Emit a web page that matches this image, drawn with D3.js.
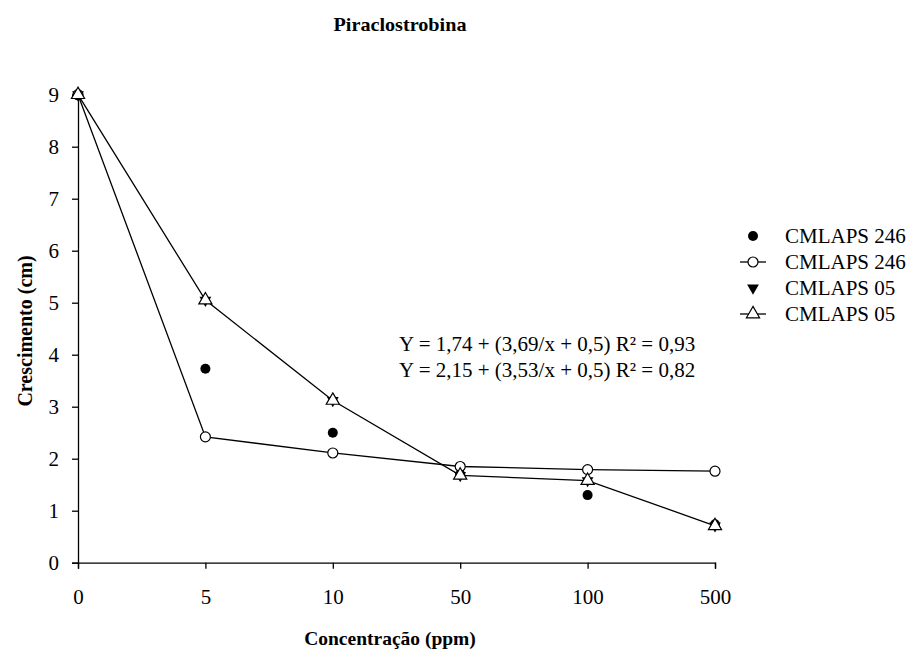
<!DOCTYPE html>
<html>
<head>
  <meta charset="utf-8">
  <title>Piraclostrobina</title>
  <script src="https://cdnjs.cloudflare.com/ajax/libs/d3/7.8.5/d3.min.js"></script>
  <style>
    body { margin: 0; background: #fff; }
  </style>
</head>
<body>
<div id="chart"></div>
<script>
// categories on the x axis (ppm)
var concentracoes = ['0', '5', '10', '50', '100', '500'];
// observed CMLAPS 246 (filled circles)
var obs246 = [9, 3.73, 2.5, 1.7, 1.3, 0.74];
// fitted CMLAPS 246 (open circles with line)
var fit246 = [9, 2.42, 2.11, 1.85, 1.79, 1.76];
// observed CMLAPS 05 (filled down triangles)
var obs05 = [9, 5.05, 3.12, 1.68, 1.58, 0.71];
// fitted CMLAPS 05 (open triangles with line)
var fit05 = [9, 5.05, 3.12, 1.68, 1.58, 0.71];
var yTicks = [0, 1, 2, 3, 4, 5, 6, 7, 8, 9];
var equacoes = ['Y = 1,74 + (3,69/x + 0,5) R² = 0,93', 'Y = 2,15 + (3,53/x + 0,5) R² = 0,82'];
var legenda = ['CMLAPS 246', 'CMLAPS 246', 'CMLAPS 05', 'CMLAPS 05'];

var serif = 'Liberation Serif';
var width = 910, height = 651;
var svg = d3.select('#chart').append('svg')
  .attr('width', width)
  .attr('height', height)
  .attr('font-family', serif);

var x = d3.scalePoint().domain(concentracoes).range([78, 715]);
var y = d3.scaleLinear().domain([0, 9]).range([562.7, 94.7]);

// axes
var xAxis = svg.append('g')
  .attr('transform', 'translate(0,' + y(0) + ')')
  .call(d3.axisBottom(x).tickSizeOuter(0).tickSize(6).tickPadding(20));
var yAxis = svg.append('g')
  .attr('transform', 'translate(' + x('0') + ',0)')
  .call(d3.axisLeft(y).tickValues(yTicks).tickSizeOuter(0).tickSize(6).tickPadding(13));
[xAxis, yAxis].forEach(function(a) {
  a.attr('font-family', serif).attr('font-size', 21);
  a.select('.domain').attr('stroke', '#000').attr('stroke-width', 1.3);
  a.selectAll('.tick line').attr('stroke', '#000').attr('stroke-width', 1.3);
  a.selectAll('.tick text').attr('fill', '#000');
});

// titles
svg.append('text')
  .attr('x', 400).attr('y', 31)
  .attr('text-anchor', 'middle')
  .attr('font-size', 19).attr('font-weight', 'bold')
  .attr('textLength', 133).attr('lengthAdjust', 'spacingAndGlyphs')
  .text('Piraclostrobina');
svg.append('text')
  .attr('x', 390).attr('y', 645)
  .attr('text-anchor', 'middle')
  .attr('font-size', 19.5).attr('font-weight', 'bold')
  .text('Concentração (ppm)');
svg.append('text')
  .attr('transform', 'translate(32,331) rotate(-90)')
  .attr('text-anchor', 'middle')
  .attr('font-size', 20).attr('font-weight', 'bold')
  .text('Crescimento (cm)');

var line = d3.line()
  .x(function(d, i) { return x(concentracoes[i]); })
  .y(function(d) { return y(d); });

svg.append('path').datum(fit246)
  .attr('d', line).attr('fill', 'none').attr('stroke', '#000').attr('stroke-width', 1.3);
svg.append('path').datum(fit05)
  .attr('d', line).attr('fill', 'none').attr('stroke', '#000').attr('stroke-width', 1.3);

var triUp = d3.symbol().type(d3.symbolTriangle).size(75);
var triDown = d3.symbol().type(d3.symbolTriangle).size(60);

// filled circles
svg.selectAll('.obs246').data(obs246).enter().append('circle')
  .attr('cx', function(d, i) { return x(concentracoes[i]); })
  .attr('cy', function(d) { return y(d); })
  .attr('r', 5).attr('fill', '#000');

// filled down triangles
svg.selectAll('.obs05').data(obs05).enter().append('path')
  .attr('d', triDown())
  .attr('transform', function(d, i) { return 'translate(' + x(concentracoes[i]) + ',' + y(d) + ') rotate(180)'; })
  .attr('fill', '#000');

// open circles
svg.selectAll('.fit246').data(fit246).enter().append('circle')
  .attr('cx', function(d, i) { return x(concentracoes[i]); })
  .attr('cy', function(d) { return y(d); })
  .attr('r', 5).attr('fill', '#fff').attr('stroke', '#000').attr('stroke-width', 1.2);

// open up triangles
svg.selectAll('.fit05').data(fit05).enter().append('path')
  .attr('d', triUp())
  .attr('transform', function(d, i) { return 'translate(' + x(concentracoes[i]) + ',' + y(d) + ')'; })
  .attr('fill', '#fff').attr('stroke', '#000').attr('stroke-width', 1.2);

// equations
svg.selectAll('.eq').data(equacoes).enter().append('text')
  .attr('x', 399)
  .attr('y', function(d, i) { return 351 + i * 26; })
  .attr('font-size', 21)
  .text(function(d) { return d; });

// legend
var leg = svg.append('g').attr('transform', 'translate(753,236)');
legenda.forEach(function(name, i) {
  var g = leg.append('g').attr('transform', 'translate(0,' + (i * 26) + ')');
  if (i === 1 || i === 3) {
    g.append('line').attr('x1', -13).attr('x2', 13).attr('y1', 0).attr('y2', 0)
      .attr('stroke', '#000').attr('stroke-width', 1.3);
  }
  if (i === 0) g.append('circle').attr('r', 5).attr('fill', '#000');
  if (i === 1) g.append('circle').attr('r', 5).attr('fill', '#fff').attr('stroke', '#000').attr('stroke-width', 1.2);
  if (i === 2) g.append('path').attr('d', triDown()).attr('transform', 'rotate(180)').attr('fill', '#000');
  if (i === 3) g.append('path').attr('d', triUp()).attr('fill', '#fff').attr('stroke', '#000').attr('stroke-width', 1.2);
  g.append('text').attr('x', 32).attr('y', 7)
    .attr('font-size', 21)
    .text(name);
});
</script>
</body>
</html>
